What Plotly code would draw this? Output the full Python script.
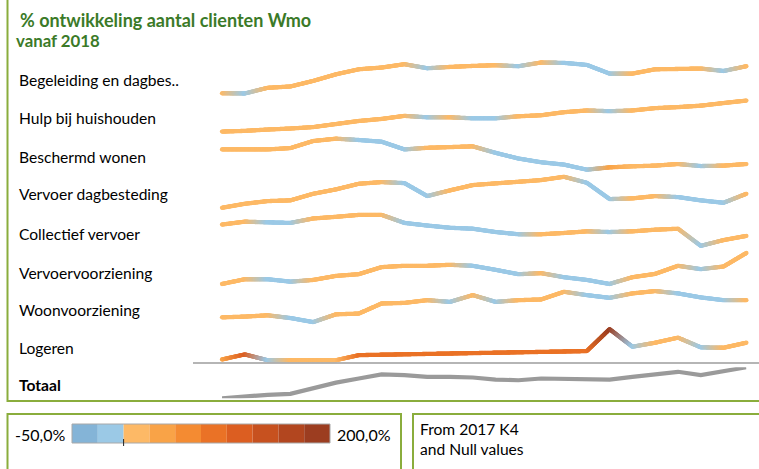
import math
import plotly.graph_objects as go

# ---------------- data ----------------
kwartalen = ["2017 K4", "2018 K1", "2018 K2", "2018 K3", "2018 K4", "2019 K1", "2019 K2", "2019 K3",
             "2019 K4", "2020 K1", "2020 K2", "2020 K3", "2020 K4", "2021 K1", "2021 K2", "2021 K3",
             "2021 K4", "2022 K1", "2022 K2", "2022 K3", "2022 K4", "2023 K1", "2023 K2", "2023 K3"]

categorieen = ["Begeleiding en dagbes..", "Hulp bij huishouden", "Beschermd wonen", "Vervoer dagbesteding",
               "Collectief vervoer", "Vervoervoorziening", "Woonvoorziening", "Logeren", "Totaal"]

# % ontwikkeling (lijn)
begeleiding = [0, -0.2, 5.4, 6.7, 12.2, 18.7, 23.7, 25.4, 28.7, 24.7, 26.0, 27.0, 27.7, 26.7, 30.4, 30.0,
               28.0, 19.4, 19.4, 23.7, 24.0, 24.4, 22.0, 26.7]
hulp = [0, 0.7, 2.0, 3.0, 4.4, 7.4, 10.4, 12.4, 15.4, 14.0, 14.0, 13.0, 13.0, 15.0, 16.0, 19.0,
        20.7, 20.0, 20.7, 23.0, 24.0, 25.4, 28.0, 30.4]
beschermd = [0, 0, 0, 1.3, 8.3, 10.6, 9.3, 7.6, 0, 1.6, 2.3, 3.0, -3.4, -9.0, -12.7, -15.0,
             -20.0, -17.7, -16.7, -16.0, -14.4, -16.4, -16.0, -14.4]
vervoer_dagb = [0, 4.0, 6.7, 7.4, 14.0, 18.4, 24.0, 25.7, 24.7, 11.7, 17.4, 22.7, 24.4, 26.0, 27.7, 31.0,
                25.0, 8.7, 9.4, 11.7, 10.7, 7.4, 5.0, 14.0]
collectief = [0, 3.0, 2.3, 1.7, 6.3, 8.0, 10.0, 10.0, 1.7, -1.0, -3.3, -4.3, -7.7, -10.0, -10.0, -8.7,
              -7.0, -7.7, -7.0, -5.3, -4.3, -22.0, -16.0, -11.7]
vervoervoorz = [0, 4.7, 4.7, 2.3, 4.0, 8.0, 9.7, 16.7, 18.0, 18.0, 19.0, 18.0, 14.0, 9.7, 10.7, 6.7,
                4.0, 0, 6.7, 10.0, 18.0, 14.7, 17.3, 30.7]
woonvoorz = [0, 0.7, 2.0, -0.7, -4.7, 3.0, 3.7, 13.7, 14.3, 17.0, 15.3, 22.0, 15.3, 17.0, 17.7, 25.3,
             22.0, 19.3, 23.7, 26.0, 23.7, 19.7, 17.0, 17.0]
logeren = [0, 5.0, -0.7, -0.7, -0.7, -0.7, 4.3, None, None, None, None, None, None, None, None, None,
           8.3, 30.0, 12.6, 16.6, 21.6, 12.0, 11.6, 16.6]
totaal = [0, 2.0, 3.4, 4.4, 10.4, 15.4, 19.4, 23.4, 22.7, 21.0, 21.0, 20.4, 18.4, 17.7, 19.4, 19.4,
          19.4, 18.4, 21.0, 23.7, 26.0, 22.7, 27.0, 30.4]

# groei t.o.v. vorig kwartaal (kleur)
groei_begeleiding = [8, -8, 8, 8, 8, 8, 8, 8, 8, -8, 8, 8, 8, -8, 8, -8, -8, -8, 8, 8, 8, 8, -8, 8]
groei_hulp = [8, 8, 8, 8, 8, 8, 8, 8, 8, -8, 8, -8, -8, 8, 8, 8, 8, -8, 8, 8, 8, 8, 8, 8]
groei_beschermd = [8, 8, 8, 8, 8, 8, -8, -8, -8, 8, 8, 8, -8, -8, -8, -8, -8, 30, 8, 8, 8, -8, 8, 8]
groei_vervoer_dagb = [8, 8, 8, 8, 8, 8, 8, 8, -8, -8, 8, 8, 8, 8, 8, 8, -8, -8, 8, 8, -8, -8, -8, 8]
groei_collectief = [8, 8, -8, -8, 8, 8, 8, 8, -8, -8, -8, -8, -8, -8, 8, 8, 8, -8, 8, 8, 8, -8, 8, 8]
groei_vervoervoorz = [8, 8, -8, -8, 8, 8, 8, 8, 8, 8, 8, -8, -8, -8, 8, -8, -8, -8, 8, 8, 8, -8, 8, 8]
groei_woonvoorz = [8, 8, 8, -8, -8, 8, 8, 8, 8, 8, -8, 8, -8, 8, 8, 8, -8, -8, 8, 8, -8, -8, -8, 8]
groei_logeren = [35, 110, -8, 8, 8, 8, 90, None, None, None, None, None, None, None, None, None,
                 90, 185, -8, 8, 8, -8, 8, 8]

schaal_min, schaal_max = -50.0, 200.0
schaal_kleuren = ["#84b4d7", "#9bc9e6", "#fdb966", "#f9a347", "#f48b32",
                  "#ea7226", "#dc5e21", "#c7511f", "#b2461f", "#9c3d20"]

reeksen = [begeleiding, hulp, beschermd, vervoer_dagb, collectief, vervoervoorz, woonvoorz, logeren, totaal]
groeien = [groei_begeleiding, groei_hulp, groei_beschermd, groei_vervoer_dagb, groei_collectief,
           groei_vervoervoorz, groei_woonvoorz, groei_logeren, None]

# ---------------- layout helpers ----------------
W, H = 759, 469
X0, X1 = 222.0, 746.4
ROW_TOP0, PITCH, BAND = 62.5, 38.1, 31.0
LABEL_Y = [80, 118.3, 156.7, 194.3, 234.3, 272.7, 310, 347.7, 385]
GREEN = "#8aad3c"
FONT = "Lato, Carlito, Calibri, sans-serif"
LABEL_SIZE = 15.6


def px(x):
    return x / W


def py(y):
    return 1 - y / H


def hex_rgb(h):
    h = h.lstrip("#")
    return tuple(int(h[i:i + 2], 16) for i in (0, 2, 4))


def kleur(g):
    step = (schaal_max - schaal_min) / len(schaal_kleuren)
    idx = int((g - schaal_min) // step)
    idx = max(0, min(len(schaal_kleuren) - 1, idx))
    return hex_rgb(schaal_kleuren[idx])


fig = go.Figure()
n = len(kwartalen)
unit_px = (X1 - X0) / (n - 1)

for r, (vals, gr) in enumerate(zip(reeksen, groeien)):
    yname = "y" if r == 0 else f"y{r + 1}"
    valid = [i for i, v in enumerate(vals) if v is not None]
    vmin = min(vals[i] for i in valid)
    vmax = max(vals[i] for i in valid)
    span = (vmax - vmin) or 1.0
    xs_line = [i for i in valid]
    ys_line = [vals[i] for i in valid]
    if gr is None:
        fig.add_trace(go.Scatter(x=xs_line, y=ys_line, yaxis=yname, mode="lines",
                                 line=dict(color="#9a9a9a", width=4.2), cliponaxis=False,
                                 text=[kwartalen[i] for i in valid], hoverinfo="text+y",
                                 showlegend=False))
    else:
        # gradient-coloured line: sample each segment between data points
        gx, gy, gc = [], [], []
        for a, b in zip(valid[:-1], valid[1:]):
            va, vb = vals[a], vals[b]
            ca, cb = kleur(gr[a]), kleur(gr[b])
            dxp = (b - a) * unit_px
            dyp = (vb - va) / span * BAND
            steps = int(math.hypot(dxp, dyp) / 0.6) + 2
            for k in range(steps):
                t = k / steps
                gx.append(a + t * (b - a))
                gy.append(va + t * (vb - va))
                c = tuple(round(ca[j] + t * (cb[j] - ca[j])) for j in range(3))
                gc.append(f"rgb{c}")
        last = valid[-1]
        gx.append(last)
        gy.append(vals[last])
        gc.append("rgb" + str(kleur(gr[last])))
        fig.add_trace(go.Scatter(x=gx, y=gy, yaxis=yname, mode="markers",
                                 marker=dict(size=4.3, color=gc, line=dict(width=0)),
                                 cliponaxis=False, hoverinfo="skip", showlegend=False))
    top = ROW_TOP0 + r * PITCH
    fig.layout[("yaxis" if r == 0 else f"yaxis{r + 1}")] = dict(
        domain=[py(top + BAND), py(top)], range=[vmin, vmax], visible=False,
        anchor="x", fixedrange=True)

fig.update_layout(
    xaxis=dict(domain=[px(X0), px(X1)], range=[0, n - 1], visible=False, fixedrange=True),
    width=W, height=H, margin=dict(l=0, r=0, t=0, b=0),
    paper_bgcolor="white", plot_bgcolor="white", showlegend=False,
    font=dict(family=FONT, size=15, color="#000000"),
)

shapes = []
annotations = []
# frames
shapes.append(dict(type="rect", xref="paper", yref="paper", x0=px(7.5), x1=px(762), y0=py(401), y1=py(-3),
                   line=dict(color=GREEN, width=2), fillcolor="rgba(0,0,0,0)", layer="below"))
shapes.append(dict(type="rect", xref="paper", yref="paper", x0=px(7.5), x1=px(401), y0=py(472), y1=py(414),
                   line=dict(color=GREEN, width=2), fillcolor="rgba(0,0,0,0)"))
shapes.append(dict(type="rect", xref="paper", yref="paper", x0=px(413), x1=px(762), y0=py(472), y1=py(414),
                   line=dict(color=GREEN, width=2), fillcolor="rgba(0,0,0,0)"))
# separator above Totaal
shapes.append(dict(type="line", xref="paper", yref="paper", x0=px(193), x1=px(760), y0=py(363), y1=py(363),
                   line=dict(color="#9c9c9c", width=1.5)))

# title
annotations.append(dict(text="<b>% ontwikkeling aantal clienten Wmo</b>", x=px(18), y=py(20), xref="paper",
                        yref="paper", xanchor="left", yanchor="middle", showarrow=False,
                        font=dict(size=18, color="#3b7a28", family=FONT)))
annotations.append(dict(text="<b>vanaf 2018</b>", x=px(14), y=py(40.5), xref="paper",
                        yref="paper", xanchor="left", yanchor="middle", showarrow=False,
                        font=dict(size=16.8, color="#3b7a28", family=FONT)))
# row labels
for r, lab in enumerate(categorieen):
    txt = f"<b>{lab}</b>" if lab == "Totaal" else lab
    annotations.append(dict(text=txt, x=px(17), y=py(LABEL_Y[r]), xref="paper", yref="paper",
                            xanchor="left", yanchor="middle", showarrow=False,
                            font=dict(size=LABEL_SIZE, color="#000000", family=FONT)))

# colour legend
BX0, BX1, BY0, BY1 = 72.0, 330.0, 424.0, 443.0
nb = len(schaal_kleuren)
bw = (BX1 - BX0) / nb
for k, c in enumerate(schaal_kleuren):
    shapes.append(dict(type="rect", xref="paper", yref="paper", x0=px(BX0 + k * bw), x1=px(BX0 + (k + 1) * bw),
                       y0=py(BY1), y1=py(BY0), line=dict(width=0), fillcolor=c))
shapes.append(dict(type="rect", xref="paper", yref="paper", x0=px(BX0), x1=px(BX1), y0=py(BY1), y1=py(BY0),
                   line=dict(color="#a8a8a8", width=1), fillcolor="rgba(0,0,0,0)"))
x_zero = BX0 + (0 - schaal_min) / (schaal_max - schaal_min) * (BX1 - BX0)
shapes.append(dict(type="line", xref="paper", yref="paper", x0=px(x_zero), x1=px(x_zero),
                   y0=py(439), y1=py(446), line=dict(color="#222222", width=1)))
annotations.append(dict(text="-50,0%", x=px(67), y=py(434), xref="paper", yref="paper", xanchor="right",
                        yanchor="middle", showarrow=False, font=dict(size=16, family=FONT)))
annotations.append(dict(text="200,0%", x=px(335), y=py(434), xref="paper", yref="paper", xanchor="left",
                        yanchor="middle", showarrow=False, font=dict(size=16, family=FONT)))
annotations.append(dict(text="From 2017 K4<br>and Null values", x=px(418), y=py(418), xref="paper",
                        yref="paper", xanchor="left", yanchor="top", align="left", showarrow=False,
                        font=dict(size=15.6, family=FONT)))

fig.update_layout(shapes=shapes, annotations=annotations)
fig.write_html("out.html", config={"displayModeBar": False},
               post_script="document.body.style.margin='0px';document.body.style.overflow='hidden';")
